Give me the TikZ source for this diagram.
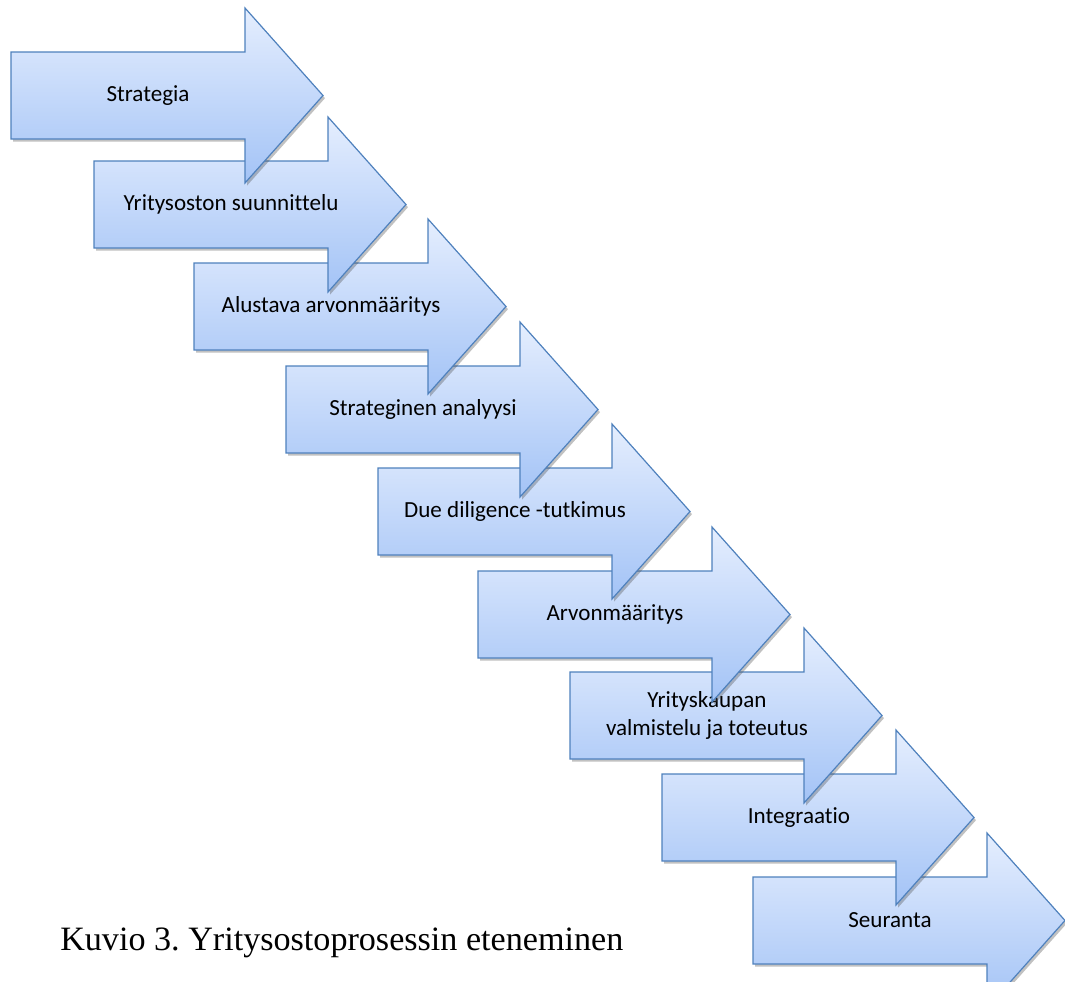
\documentclass[tikz,border=0pt]{standalone}
\usepackage{fontspec}
\newfontfamily\phasefont[Ligatures=NoCommon]{Carlito}
\newfontfamily\kuviofont{Liberation Serif}
\usetikzlibrary{shadows}

\definecolor{phaseline}{RGB}{79,129,189}
\definecolor{phasetop}{RGB}{229,238,254}
\definecolor{phasebottom}{RGB}{163,195,246}

\begin{document}
\frenchspacing
\begin{tikzpicture}
 [line cap=round,line join=miter,x=0.75pt,y=-0.75pt,
 % one step of the process: body + arrow head, shaded top to bottom
 phase/.style={draw=phaseline,line width=0.9pt,top color=phasetop,bottom color=phasebottom,
   drop shadow={shadow xshift=1.5pt,shadow yshift=-2pt,opacity=0.35,fill=black!70}},
 phaselabel/.style={font=\phasefont\fontsize{17.3}{21.5}\selectfont,align=center,inner sep=0pt,text=black}]
\useasboundingbox (0,0) rectangle (1065,982);

% drawn from the last step up, so each head lies over the next body
\foreach \n/\lx/\ty/\txt in {9/753/877/Seuranta,
	8/662/774/Integraatio,
	7/570/672/{Yrityskaupan\\valmistelu ja toteutus},
	6/478/571/Arvonm\"a\"aritys,
	5/378/468/Due diligence -tutkimus,
	4/286/366/Strateginen analyysi,
	3/194/263/Alustava arvonm\"a\"aritys,
	2/94/161/Yritysoston suunnittelu,
	1/11/52/Strategia}
{
	\path[phase] (\lx,\ty) -- ++(234,0) -- ++(0,-44) -- ++(78,87.5) -- ++(-78,87.5)
		-- ++(0,-44) -- ++(-234,0) -- cycle;
	\node[phaselabel] (p\n) at (\lx+137,\ty+43.5) {\txt};
}

\node[anchor=base west,inner sep=0pt,font=\kuviofont\fontsize{25.6}{30}\selectfont] (kuvio) at (60,950)
	{Kuvio 3. Yritysostoprosessin eteneminen};
\end{tikzpicture}
\end{document}
